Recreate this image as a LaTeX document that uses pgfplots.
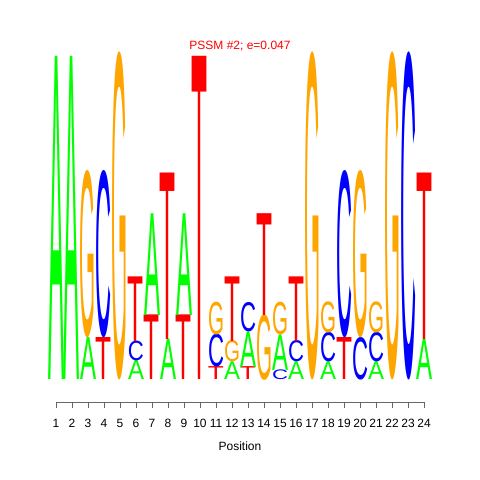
\documentclass[border=0pt]{standalone}
\usepackage{fontspec}
\setmainfont{Liberation Sans}
\usepackage{graphicx}
\usepackage{pgfplots}
\usepackage{pgfplotstable}
\pgfplotsset{compat=1.18}
\usetikzlibrary{calc}
\definecolor{lA}{RGB}{0,255,0}
\definecolor{lC}{RGB}{0,0,255}
\definecolor{lG}{RGB}{255,165,0}
\definecolor{lT}{RGB}{255,0,0}
\pgfplotstableread{
x y0 h l
1 0 2.0 A
2 0 2.0 A
3 0 0.26 A
3 0.26 1.02 G
4 0 0.26 T
4 0.26 1.02 C
5 0 2.0 G
6 0 0.12 A
6 0.12 0.12 C
6 0.24 0.40 T
7 0 0.40 T
7 0.40 0.63 A
8 0 0.25 A
8 0.25 1.03 T
9 0 0.40 T
9 0.40 0.63 A
10 0 2.0 T
11 0 0.08 T
11 0.08 0.20 C
11 0.28 0.20 G
12 0 0.11 A
12 0.11 0.13 G
12 0.24 0.40 T
13 0 0.08 T
13 0.08 0.22 A
13 0.30 0.18 C
14 0 0.40 G
14 0.40 0.63 T
15 0 0.06 C
15 0.06 0.22 A
15 0.28 0.20 G
16 0 0.11 A
16 0.11 0.13 C
16 0.24 0.40 T
17 0 2.0 G
18 0 0.11 A
18 0.11 0.18 C
18 0.29 0.19 G
19 0 0.26 T
19 0.26 1.02 C
20 0 0.26 C
20 0.26 1.02 G
21 0 0.11 A
21 0.11 0.18 C
21 0.29 0.19 G
22 0 2.0 G
23 0 2.0 C
24 0 0.25 A
24 0.25 1.03 T
}\logo
\newcommand\logoletter[2]{\pgfmathsetlengthmacro\hh{#2*161.5}\color{l#1}\resizebox{16pt}{\hh}{#1}}
\begin{document}
\begin{tikzpicture}
\begin{axis}[
  name=ax,
  x=16pt, y=161.5pt,
  xmin=1, xmax=24, ymin=-0.136, ymax=2.0,
  clip=false,
  axis x line*=bottom,
  axis y line=none,
  axis line style={black!60, line width=0.8pt},
  xtick={1,...,24},
  tick align=outside,
  major tick length=6pt,
  tick style={black!60, line width=0.8pt},
  /pgf/number format/assume math mode=true,
  xticklabel style={font=\fontsize{12}{14}\selectfont, anchor=center, inner sep=0pt, yshift=-15pt},
  xlabel={Position},
  xlabel style={font=\fontsize{12}{14}\selectfont, at={(0.5,0)}, anchor=center, inner sep=0pt, yshift=-44pt},
  title={PSSM \#2; e=0.047},
  title style={text=red, font=\fontsize{12}{14}\selectfont, at={(0.5,1)}, anchor=center, inner sep=0pt, yshift=5pt},
]
\addplot[
  draw=none, mark=none,
  point meta=explicit symbolic,
  visualization depends on={\thisrow{h} \as \hgt},
  nodes near coords={\expandafter\logoletter\expandafter{\pgfplotspointmeta}{\hgt}},
  nodes near coords align={vertical},
  every node near coord/.append style={anchor=south, inner sep=0pt, outer sep=0pt},
] table[x=x, y=y0, meta=l] {\logo};
\end{axis}
\path[use as bounding box] ($(ax.south west)+(-56pt,-78pt)$) rectangle ($(ax.north east)+(56pt,57pt)$);
\end{tikzpicture}
\end{document}
